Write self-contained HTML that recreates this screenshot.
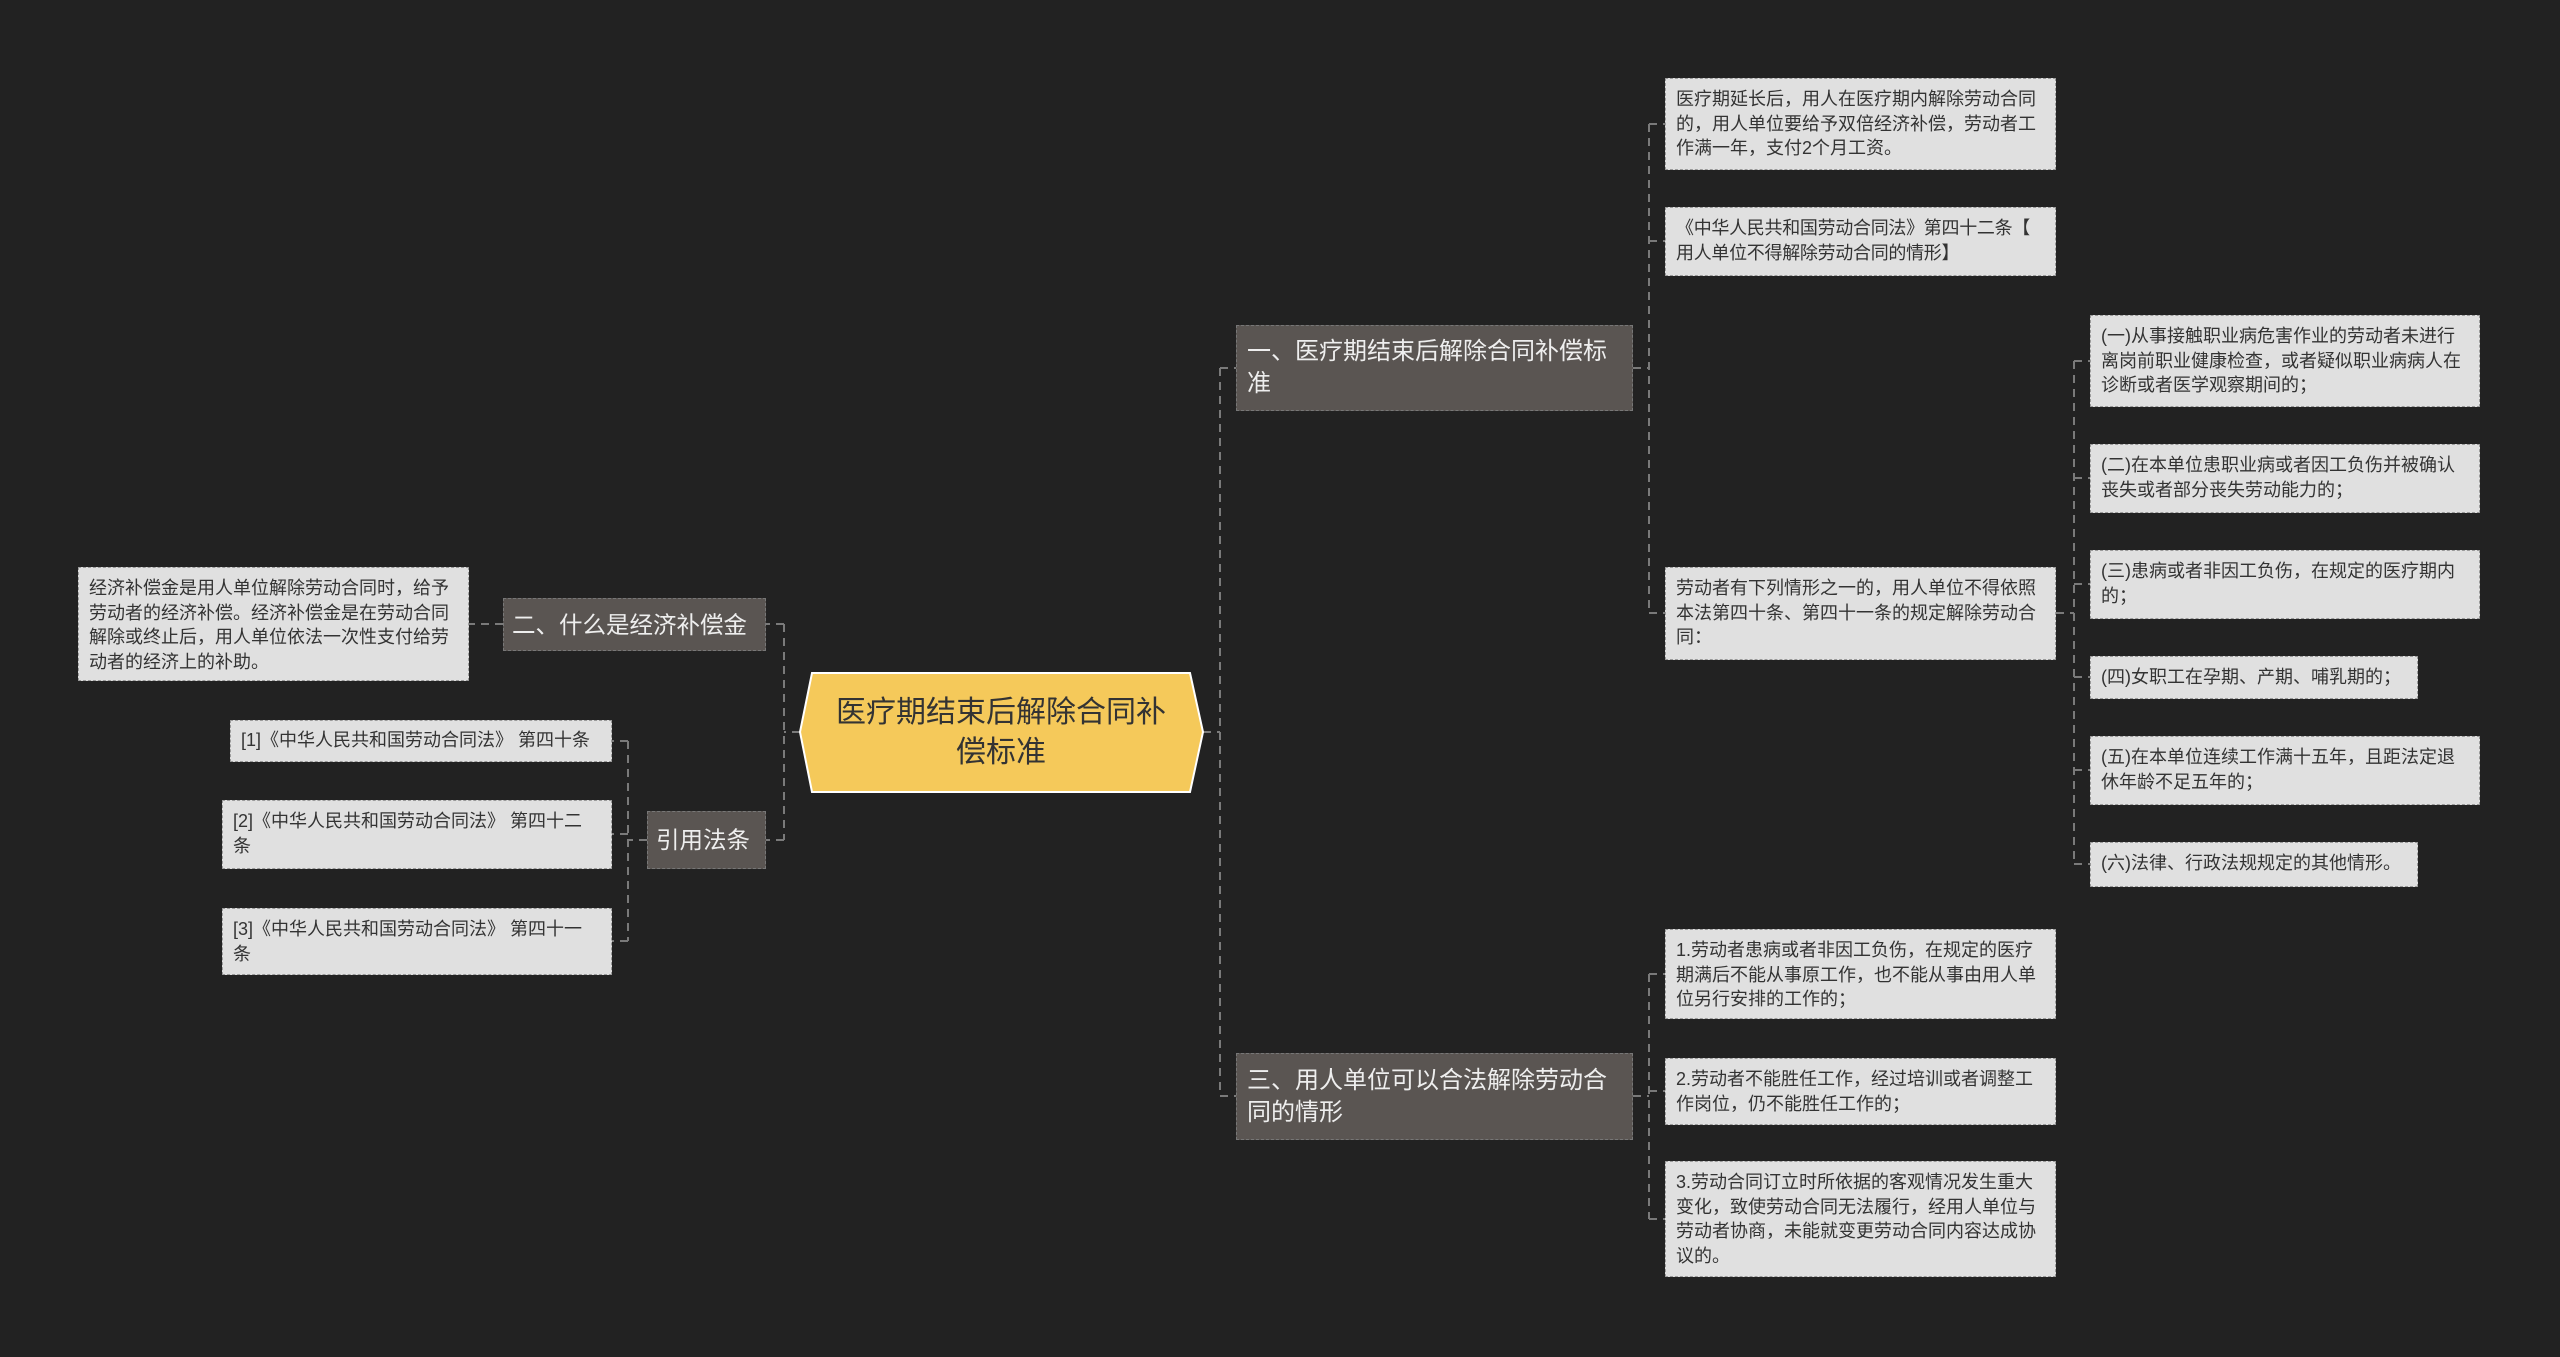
<!DOCTYPE html>
<html><head><meta charset="utf-8"><style>
body{margin:0;width:2560px;height:1357px;background:#222222;position:relative;overflow:hidden;font-family:"Liberation Sans","Noto Sans CJK SC",sans-serif}
.n{position:absolute;box-sizing:border-box;}
.leaf{background:#e0e0e0;color:#333;border:1.5px dashed #9a9a9a;font-size:18px;line-height:24.5px;padding:8px 8px 8px 10px;}
.l1{background:#5a5552;color:#eee;border:1.5px dashed #777;font-size:24px;line-height:32px;padding:10px 10px;display:flex;align-items:center}
.nw{white-space:nowrap;padding:0 8px;font-size:23.5px}
svg{position:absolute;left:0;top:0}
</style></head><body>
<svg width="2560" height="1357"><g stroke="#7a7a7a" stroke-width="2" stroke-dasharray="8 6" fill="none">
<path d="M1203 732H1220M1220 368V1096M1220 368H1236M1220 1096H1236"/>
<path d="M800 732H784M784 624V840M784 624H766M784 840H766"/>
<path d="M503 624H469"/>
<path d="M647 840H628M628 741V941M628 741H612M628 834H612M628 941H612"/>
<path d="M1633 368H1649M1649 124V613M1649 124H1665M1649 241H1665M1649 613H1665"/>
<path d="M2056 613H2074M2074 361V864M2074 361H2090M2074 478H2090M2074 584H2090M2074 677H2090M2074 770H2090M2074 864H2090"/>
<path d="M1633 1096H1649M1649 974V1219M1649 974H1665M1649 1091H1665M1649 1219H1665"/>
</g>
<polygon points="812,673 1190,673 1203,732 1190,792 812,792 800,732" fill="#f5c95a" stroke="#fff" stroke-width="2"/>
</svg>
<div class="n" style="left:812px;top:673px;width:378px;height:119px;display:flex;align-items:center;justify-content:center;text-align:center;font-size:30px;line-height:40px;color:#333;padding:0 10px">医疗期结束后解除合同补偿标准</div>

<div class="n l1 nw" style="left:503px;top:598px;width:263px;height:53px">二、什么是经济补偿金</div>
<div class="n leaf" style="left:78px;top:567px;width:391px;height:114px">经济补偿金是用人单位解除劳动合同时，给予劳动者的经济补偿。经济补偿金是在劳动合同解除或终止后，用人单位依法一次性支付给劳动者的经济上的补助。</div>
<div class="n l1 nw" style="left:647px;top:811px;width:119px;height:58px">引用法条</div>
<div class="n leaf" style="left:230px;top:720px;width:382px;height:42px;padding-top:7px">[1]《中华人民共和国劳动合同法》 第四十条</div>
<div class="n leaf" style="left:222px;top:800px;width:390px;height:69px">[2]《中华人民共和国劳动合同法》 第四十二<br>条</div>
<div class="n leaf" style="left:222px;top:908px;width:390px;height:67px">[3]《中华人民共和国劳动合同法》 第四十一<br>条</div>

<div class="n l1" style="left:1236px;top:325px;width:397px;height:86px">一、医疗期结束后解除合同补偿标准</div>
<div class="n l1" style="left:1236px;top:1053px;width:397px;height:87px">三、用人单位可以合法解除劳动合同的情形</div>

<div class="n leaf" style="left:1665px;top:78px;width:391px;height:92px">医疗期延长后，用人在医疗期内解除劳动合同的，用人单位要给予双倍经济补偿，劳动者工作满一年，支付2个月工资。</div>
<div class="n leaf" style="left:1665px;top:207px;width:391px;height:69px;white-space:nowrap;letter-spacing:-0.3px">《中华人民共和国劳动合同法》第四十二条【<br>用人单位不得解除劳动合同的情形】</div>
<div class="n leaf" style="left:1665px;top:567px;width:391px;height:93px">劳动者有下列情形之一的，用人单位不得依照本法第四十条、第四十一条的规定解除劳动合同：</div>

<div class="n leaf" style="left:2090px;top:315px;width:390px;height:92px">(一)从事接触职业病危害作业的劳动者未进行离岗前职业健康检查，或者疑似职业病病人在诊断或者医学观察期间的；</div>
<div class="n leaf" style="left:2090px;top:444px;width:390px;height:69px">(二)在本单位患职业病或者因工负伤并被确认丧失或者部分丧失劳动能力的；</div>
<div class="n leaf" style="left:2090px;top:550px;width:390px;height:69px">(三)患病或者非因工负伤，在规定的医疗期内的；</div>
<div class="n leaf" style="left:2090px;top:656px;width:328px;height:43px;white-space:nowrap">(四)女职工在孕期、产期、哺乳期的；</div>
<div class="n leaf" style="left:2090px;top:736px;width:390px;height:69px">(五)在本单位连续工作满十五年，且距法定退休年龄不足五年的；</div>
<div class="n leaf" style="left:2090px;top:842px;width:328px;height:45px;white-space:nowrap">(六)法律、行政法规规定的其他情形。</div>

<div class="n leaf" style="left:1665px;top:929px;width:391px;height:90px">1.劳动者患病或者非因工负伤，在规定的医疗期满后不能从事原工作，也不能从事由用人单位另行安排的工作的；</div>
<div class="n leaf" style="left:1665px;top:1058px;width:391px;height:67px">2.劳动者不能胜任工作，经过培训或者调整工作岗位，仍不能胜任工作的；</div>
<div class="n leaf" style="left:1665px;top:1161px;width:391px;height:116px">3.劳动合同订立时所依据的客观情况发生重大变化，致使劳动合同无法履行，经用人单位与劳动者协商，未能就变更劳动合同内容达成协议的。</div>
</body></html>
